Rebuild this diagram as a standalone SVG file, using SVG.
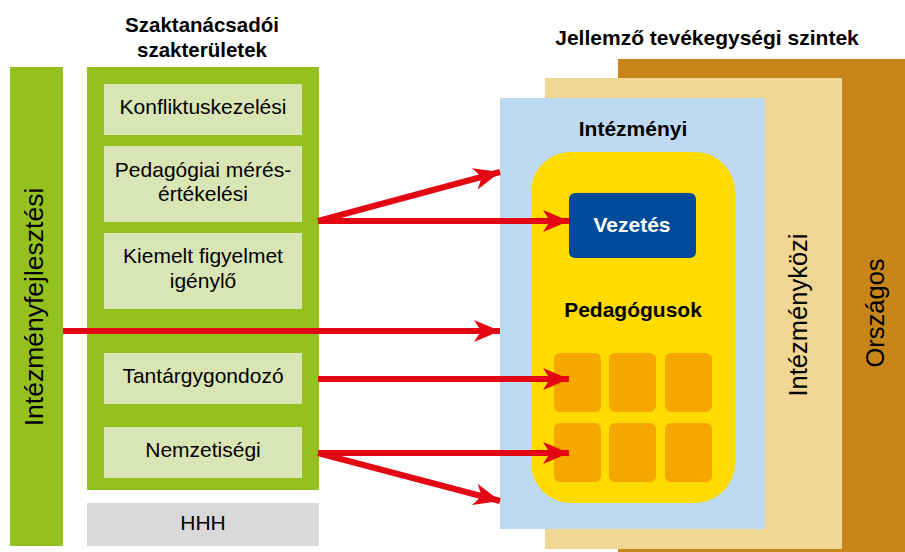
<svg xmlns="http://www.w3.org/2000/svg" width="905" height="552" viewBox="0 0 905 552">
<style>
text{font-family:"Liberation Sans",Arial,sans-serif;fill:#000}
.t{font-size:21px;text-anchor:middle}
.h{font-size:21px;font-weight:bold;text-anchor:middle}
.r{font-size:25.5px;text-anchor:middle}
.sub{fill:#DAE5B6}
.tile{fill:#F5A700}
.arr{stroke:#E30613;stroke-width:6;fill:none}
</style>
<defs>
<marker id="ah" markerUnits="userSpaceOnUse" markerWidth="28" markerHeight="24" refX="26" refY="12" orient="auto" viewBox="0 0 28 24">
<path d="M0,1 L26,12 L0,23 L7,12 Z" fill="#E30613"/>
</marker>
</defs>
<rect width="905" height="552" fill="#fff"/>
<g id="levels">
<rect x="618" y="59" width="287" height="493" fill="#C8861A"/>
<rect x="545" y="78" width="297" height="471" fill="#F0D894"/>
<rect x="500" y="98" width="265" height="431" fill="#BDDAF2"/>
<text class="r" transform="translate(884,313) rotate(-90)">Országos</text>
<text class="r" transform="translate(807,315) rotate(-90)">Intézményközi</text>
<text class="h" x="633" y="136">Intézményi</text>
</g>
<g id="pedagogusok">
<rect x="531" y="152" width="204" height="351" rx="40" fill="#FFDB00"/>
<text class="h" x="633" y="317">Pedagógusok</text>
<rect class="tile" x="554" y="353" width="47" height="59" rx="6"/>
<rect class="tile" x="609" y="353" width="47" height="59" rx="6"/>
<rect class="tile" x="665" y="353" width="47" height="59" rx="6"/>
<rect class="tile" x="554" y="423" width="47" height="59" rx="6"/>
<rect class="tile" x="609" y="423" width="47" height="59" rx="6"/>
<rect class="tile" x="665" y="423" width="47" height="59" rx="6"/>
</g>
<g id="vezetes">
<rect x="569" y="193" width="127" height="65" rx="6" fill="#004A9A"/>
<text class="h" x="632" y="232" style="fill:#fff">Vezetés</text>
</g>
<g id="title-right"><text class="h" x="707" y="45">Jellemző tevékegységi szintek</text></g>
<g id="title-left"><text class="h" x="202" y="32" style="font-size:20.5px">Szaktanácsadói</text><text class="h" x="202" y="57" style="font-size:20.5px">szakterületek</text></g>
<g id="intezmenyfejlesztesi">
<rect x="10" y="67" width="53" height="479" fill="#95C11F"/>
<text transform="translate(43,307) rotate(-90)" font-size="26.5" text-anchor="middle">Intézményfejlesztési</text>
</g>
<g id="szakteruletek">
<rect x="87" y="67" width="232" height="423" fill="#95C11F"/>
</g>
<g id="konfliktus"><rect class="sub" x="104" y="84" width="198" height="51"/><text class="t" x="203" y="114">Konfliktuskezelési</text></g>
<g id="pedmeres"><rect class="sub" x="104" y="146" width="198" height="76"/><text class="t" x="203" y="177">Pedagógiai mérés-</text><text class="t" x="203" y="201">értékelési</text></g>
<g id="kiemelt"><rect class="sub" x="104" y="233" width="198" height="76"/><text class="t" x="203" y="263">Kiemelt figyelmet</text><text class="t" x="203" y="288">igénylő</text></g>
<g id="tantargy"><rect class="sub" x="104" y="353" width="198" height="51"/><text class="t" x="203" y="383">Tantárgygondozó</text></g>
<g id="nemzetisegi"><rect class="sub" x="104" y="427" width="198" height="51"/><text class="t" x="203" y="457">Nemzetiségi</text></g>
<g id="hhh"><rect x="87" y="503" width="232" height="43" fill="#D9D9D9"/><text class="t" x="203" y="530">HHH</text></g>
<g id="connectors">
<line class="arr" x1="318" y1="221" x2="500" y2="172" marker-end="url(#ah)"/>
<line class="arr" x1="318" y1="221" x2="569" y2="221" marker-end="url(#ah)"/>
<line class="arr" x1="63" y1="331" x2="500" y2="331" marker-end="url(#ah)"/>
<line class="arr" x1="318" y1="379" x2="569" y2="379" marker-end="url(#ah)"/>
<line class="arr" x1="318" y1="453" x2="569" y2="453" marker-end="url(#ah)"/>
<line class="arr" x1="318" y1="453" x2="500" y2="501" marker-end="url(#ah)"/>
</g>
</svg>
